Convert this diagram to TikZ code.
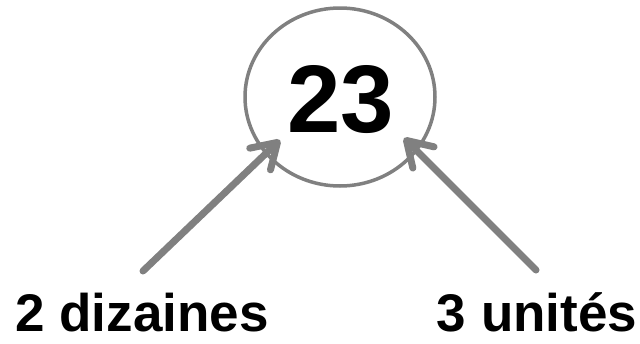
\documentclass[tikz,border=0pt]{standalone}
\usepackage{fontspec}
\setmainfont{Liberation Sans}
\usetikzlibrary{arrows.meta}
\definecolor{linegray}{RGB}{128,128,128}
\tikzset{
  ring/.style={draw=linegray, line width=3.5pt},
  pointer/.style={draw=linegray, line width=7pt, line cap=round,
    -{Straight Barb[length=24pt, width=30pt, round, line width=7pt]}},
  bigtxt/.style={font=\fontsize{96}{96}\selectfont\bfseries, inner sep=0pt, anchor=base},
  lbltxt/.style={font=\fontsize{53}{53}\selectfont\bfseries, inner sep=0pt, anchor=base}
}
\begin{document}
\begin{tikzpicture}[x=1pt,y=-1pt]
\useasboundingbox (0,0) rectangle (640,343);
\draw[ring] (340,97) ellipse [x radius=95, y radius=89];
\node[bigtxt] (num) at (341,132) {23};
\node[lbltxt] (diz) at (142,331) {2 dizaines};
\node[lbltxt] (uni) at (537,331) {3 unités};
\coordinate (s1) at (143,271);
\coordinate (t1) at (280,140);
\coordinate (s2) at (536,270);
\coordinate (t2) at (404,138);
\draw[pointer] (s1) -- (t1);
\draw[pointer] (s2) -- (t2);
\end{tikzpicture}
\end{document}
